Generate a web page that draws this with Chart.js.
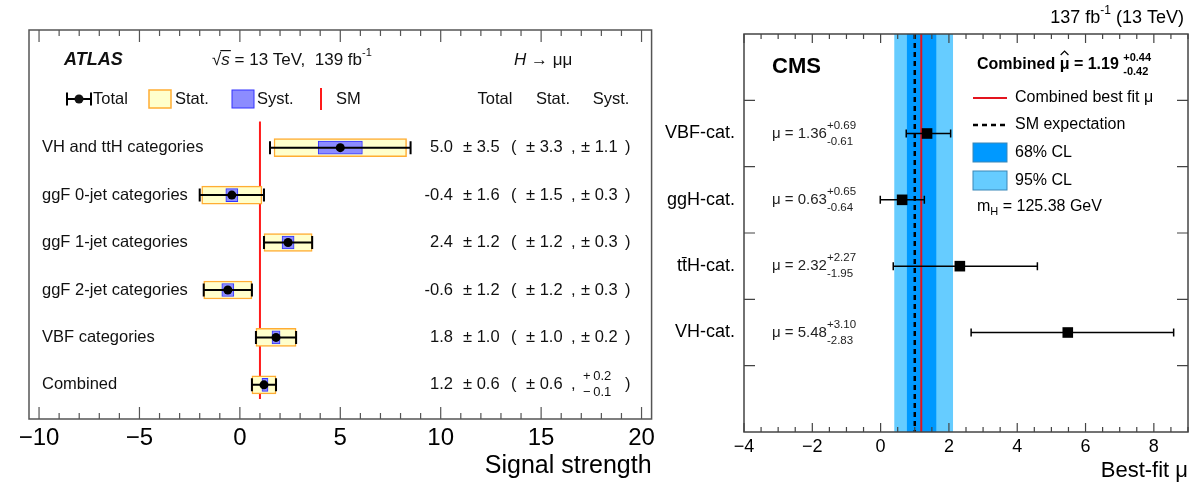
<!DOCTYPE html>
<html>
<head>
<meta charset="utf-8">
<script src="https://cdn.jsdelivr.net/npm/chart.js@4.4.1/dist/chart.umd.min.js"></script>
<style>
  html, body { margin: 0; padding: 0; background: #fff; }
  #wrap { position: relative; width: 1201px; height: 483px; overflow: hidden; }
  #atlas { position: absolute; left: 0; top: 0; }
  #cms { position: absolute; left: 660px; top: 0; }
</style>
</head>
<body>
<div id="wrap">
  <canvas id="atlas" width="660" height="483"></canvas>
  <canvas id="cms" width="541" height="483"></canvas>
</div>
<script>
// ATLAS H -> mumu signal strength per category
const atlasCategories = ['VH and ttH categories', 'ggF 0-jet categories', 'ggF 1-jet categories',
                         'ggF 2-jet categories', 'VBF categories', 'Combined'];
const atlasRows = [5, 4, 3, 2, 1, 0];
const atlasMu = [5.0, -0.4, 2.4, -0.6, 1.8, 1.2];
const atlasTotal = [3.5, 1.6, 1.2, 1.2, 1.0, 0.6];
const atlasStat = [3.3, 1.5, 1.2, 1.2, 1.0, 0.6];
const atlasSystUp = [1.1, 0.3, 0.3, 0.3, 0.2, 0.2];
const atlasSystDown = [1.1, 0.3, 0.3, 0.3, 0.2, 0.1];
const atlasMajorTicks = [-10, -5, 0, 5, 10, 15, 20];
const smValue = 1;

// CMS best-fit mu per category
const cmsCategories = ['VBF-cat.', 'ggH-cat.', 'tt\u0304H-cat.', 'VH-cat.'];
const cmsRows = [4.5, 3.5, 2.5, 1.5];
const cmsMu = [1.36, 0.63, 2.32, 5.48];
const cmsUp = [0.69, 0.65, 2.27, 3.10];
const cmsDown = [0.61, 0.64, 1.95, 2.83];
const cmsBest = 1.19;
const cmsBestUp = 0.44;
const cmsBestDown = 0.42;
const cms95 = [0.40, 2.12];
const cmsMajorTicks = [-4, -2, 0, 2, 4, 6, 8];

const FAMILY = '"Liberation Sans", Arial, Helvetica, sans-serif';
const font = (size, style) => (style ? style + ' ' : '') + size + 'px ' + FAMILY;
Chart.defaults.font.family = FAMILY;
Chart.defaults.color = '#000';

function fmtTick(v) {
  return v < 0 ? '\u2212' + (-v) : String(v);
}

function tickRange(lo, hi, step) {
  const out = [];
  for (let v = lo; v <= hi + 1e-9; v += step) out.push({ value: Math.round(v * 100) / 100 });
  return out;
}

// draws consecutive text pieces with their own fonts / vertical offsets
function drawRuns(ctx, x, y, runs, align) {
  let total = 0;
  runs.forEach(r => {
    ctx.font = r.font;
    r.w = r.stack ? Math.max(ctx.measureText(r.text).width, ctx.measureText(r.stack).width)
                  : ctx.measureText(r.text).width;
    total += r.w + (r.gap || 0);
  });
  let cx = align === 'right' ? x - total : x;
  ctx.textAlign = 'left';
  ctx.textBaseline = 'middle';
  runs.forEach(r => {
    ctx.font = r.font;
    if (r.stack) {
      ctx.fillText(r.text, cx, y - r.off);
      ctx.fillText(r.stack, cx, y + r.off);
    } else {
      ctx.fillText(r.text, cx, y + (r.dy || 0));
    }
    if (r.after) r.after(cx, r.w);
    cx += r.w + (r.gap || 0);
  });
  return cx;
}

function tickMarks(ctx, scale, area, isMajor, majorLen, minorLen) {
  ctx.beginPath();
  scale.ticks.forEach(t => {
    const px = scale.getPixelForValue(t.value);
    const len = isMajor(t.value) ? majorLen : minorLen;
    ctx.moveTo(px, area.bottom);
    ctx.lineTo(px, area.bottom - len);
    ctx.moveTo(px, area.top);
    ctx.lineTo(px, area.top + len);
  });
  ctx.stroke();
}

// ---------------- ATLAS panel ----------------
const atlasDecor = {
  id: 'atlasDecor',
  beforeDatasetsDraw(chart) {
    const { ctx, scales: { x, y } } = chart;
    ctx.save();
    ctx.strokeStyle = '#ff1a1a';
    ctx.lineWidth = 2;
    ctx.beginPath();
    ctx.moveTo(x.getPixelForValue(smValue), y.getPixelForValue(5.55));
    ctx.lineTo(x.getPixelForValue(smValue), y.getPixelForValue(-0.3));
    ctx.stroke();
    ctx.restore();
  },
  afterDatasetDraw(chart, args) {
    if (args.index !== 1) return;
    // total uncertainty whiskers above the stat/syst boxes
    const { ctx, scales: { x, y } } = chart;
    ctx.save();
    ctx.strokeStyle = '#000';
    ctx.lineWidth = 2;
    atlasRows.forEach((r, i) => {
      const py = y.getPixelForValue(r);
      const x0 = x.getPixelForValue(atlasMu[i] - atlasTotal[i]);
      const x1 = x.getPixelForValue(atlasMu[i] + atlasTotal[i]);
      ctx.beginPath();
      ctx.moveTo(x0, py); ctx.lineTo(x1, py);
      ctx.moveTo(x0, py - 6.5); ctx.lineTo(x0, py + 6.5);
      ctx.moveTo(x1, py - 6.5); ctx.lineTo(x1, py + 6.5);
      ctx.stroke();
    });
    ctx.restore();
  },
  afterDraw(chart) {
    const { ctx, chartArea: a, scales: { x, y } } = chart;
    ctx.save();
    ctx.strokeStyle = '#555';
    ctx.lineWidth = 1.5;
    ctx.strokeRect(a.left, a.top, a.right - a.left, a.bottom - a.top);
    ctx.lineWidth = 1.2;
    tickMarks(ctx, x, a, v => atlasMajorTicks.includes(v), 12, 6);

    ctx.fillStyle = '#111';
    // header line
    drawRuns(ctx, 64, 60, [{ text: 'ATLAS', font: font(18, 'italic bold') }]);
    drawRuns(ctx, 212, 60, [
      { text: '\u221A', font: font(17) },
      { text: 's', font: font(17, 'italic'), after: (cx, w) => {
          ctx.fillRect(cx - 1, 50, w + 2, 1.2);
        } },
      { text: ' = 13 TeV,  139 fb', font: font(17) },
      { text: '-1', font: font(11), dy: -7 }
    ]);
    drawRuns(ctx, 514, 60, [
      { text: 'H', font: font(17, 'italic') },
      { text: ' \u2192 \u03BC\u03BC', font: font(17) }
    ]);

    // legend line
    const ly = 99;
    ctx.strokeStyle = '#000';
    ctx.lineWidth = 2;
    ctx.beginPath();
    ctx.moveTo(67, ly); ctx.lineTo(91, ly);
    ctx.moveTo(67, ly - 6.5); ctx.lineTo(67, ly + 6.5);
    ctx.moveTo(91, ly - 6.5); ctx.lineTo(91, ly + 6.5);
    ctx.stroke();
    ctx.beginPath();
    ctx.arc(79, ly, 4.5, 0, Math.PI * 2);
    ctx.fill();
    drawRuns(ctx, 93, ly, [{ text: 'Total', font: font(16.5) }]);
    ctx.fillStyle = '#ffffcc';
    ctx.fillRect(149, ly - 9, 22, 18);
    ctx.strokeStyle = '#ffad33';
    ctx.lineWidth = 1.5;
    ctx.strokeRect(149, ly - 9, 22, 18);
    ctx.fillStyle = '#8c8cff';
    ctx.fillRect(232, ly - 9, 22, 18);
    ctx.strokeStyle = '#3333ff';
    ctx.lineWidth = 1;
    ctx.strokeRect(232, ly - 9, 22, 18);
    ctx.strokeStyle = '#ff1a1a';
    ctx.lineWidth = 2;
    ctx.beginPath();
    ctx.moveTo(321, ly - 11); ctx.lineTo(321, ly + 11);
    ctx.stroke();
    ctx.fillStyle = '#111';
    drawRuns(ctx, 175, ly, [{ text: 'Stat.', font: font(16.5) }]);
    drawRuns(ctx, 257, ly, [{ text: 'Syst.', font: font(16.5) }]);
    drawRuns(ctx, 336, ly, [{ text: 'SM', font: font(16.5) }]);

    ctx.font = font(16.5);
    ctx.textAlign = 'center';
    ctx.fillText('Total', 495, ly);
    ctx.fillText('Stat.', 553, ly);
    ctx.fillText('Syst.', 611, ly);

    // per-category labels and numbers
    atlasRows.forEach((r, i) => {
      const py = y.getPixelForValue(r);
      ctx.font = font(16.5);
      ctx.textBaseline = 'middle';
      ctx.textAlign = 'left';
      ctx.fillText(atlasCategories[i], 42, py);
      ctx.textAlign = 'right';
      ctx.fillText(atlasMu[i].toFixed(1), 453, py);
      ctx.textAlign = 'left';
      ctx.fillText('\u00B1 ' + atlasTotal[i].toFixed(1), 463, py);
      ctx.fillText('(', 511, py);
      ctx.fillText('\u00B1 ' + atlasStat[i].toFixed(1), 526, py);
      ctx.fillText(',', 571, py);
      if (atlasSystUp[i] === atlasSystDown[i]) {
        ctx.fillText('\u00B1 ' + atlasSystUp[i].toFixed(1), 581, py);
      } else {
        ctx.font = font(13);
        ctx.fillText('+\u2009' + atlasSystUp[i].toFixed(1), 583, py - 8);
        ctx.fillText('\u2212\u2009' + atlasSystDown[i].toFixed(1), 583, py + 8);
        ctx.font = font(16.5);
      }
      ctx.fillText(')', 625, py);
    });
    ctx.restore();
  }
};

new Chart(document.getElementById('atlas'), {
  type: 'bar',
  data: {
    datasets: [
      {
        type: 'bar',
        label: 'Stat.',
        data: atlasRows.map((r, i) => ({ x: [atlasMu[i] - atlasStat[i], atlasMu[i] + atlasStat[i]], y: r })),
        backgroundColor: '#ffffcc',
        borderColor: '#ffad33',
        borderWidth: 1.5,
        borderSkipped: false,
        barThickness: 18,
        grouped: false,
        order: 3
      },
      {
        type: 'bar',
        label: 'Syst.',
        data: atlasRows.map((r, i) => ({ x: [atlasMu[i] - atlasSystDown[i], atlasMu[i] + atlasSystUp[i]], y: r })),
        backgroundColor: '#8c8cff',
        borderColor: '#3333ff',
        borderWidth: 1,
        borderSkipped: false,
        barThickness: 13,
        grouped: false,
        order: 2
      },
      {
        type: 'scatter',
        label: 'Total',
        data: atlasRows.map((r, i) => ({ x: atlasMu[i], y: r })),
        pointRadius: 4.5,
        pointBackgroundColor: '#000',
        pointBorderWidth: 0,
        order: 1
      }
    ]
  },
  options: {
    indexAxis: 'y',
    responsive: false,
    animation: false,
    layout: { padding: { left: 29, right: 7, top: 30, bottom: 0 } },
    plugins: { legend: { display: false }, tooltip: { enabled: false } },
    scales: {
      x: {
        type: 'linear',
        min: -10.5,
        max: 20.5,
        grid: { display: false, drawTicks: false },
        border: { display: false },
        afterBuildTicks: s => { s.ticks = tickRange(-10, 20, 1); },
        ticks: {
          autoSkip: false,
          maxRotation: 0,
          padding: 5,
          font: { size: 24 },
          color: '#000',
          callback: v => atlasMajorTicks.includes(v) ? fmtTick(v) : ''
        },
        title: {
          display: true,
          text: 'Signal strength',
          align: 'end',
          color: '#000',
          font: { size: 25, lineHeight: 1 },
          padding: { top: 0, bottom: 4 }
        },
        afterFit: s => { s.height = 64; }
      },
      y: { type: 'linear', min: -0.72, max: 7.48, offset: false, display: false }
    }
  },
  plugins: [atlasDecor]
});

// ---------------- CMS panel ----------------
const cmsDecor = {
  id: 'cmsDecor',
  beforeDatasetsDraw(chart) {
    const { ctx, chartArea: a, scales: { x, y } } = chart;
    ctx.save();
    const band = (lo, hi, color) => {
      ctx.fillStyle = color;
      ctx.fillRect(x.getPixelForValue(lo), a.top, x.getPixelForValue(hi) - x.getPixelForValue(lo), a.bottom - a.top);
    };
    band(cms95[0], cms95[1], '#66ccff');
    band(cmsBest - cmsBestDown, cmsBest + cmsBestUp, '#0099ff');

    ctx.strokeStyle = '#000';
    ctx.lineWidth = 2.5;
    ctx.setLineDash([5, 4]);
    ctx.beginPath();
    ctx.moveTo(x.getPixelForValue(smValue), a.top);
    ctx.lineTo(x.getPixelForValue(smValue), a.bottom);
    ctx.stroke();
    ctx.setLineDash([]);

    ctx.strokeStyle = '#e3141e';
    ctx.lineWidth = 2;
    ctx.beginPath();
    ctx.moveTo(x.getPixelForValue(cmsBest), a.top);
    ctx.lineTo(x.getPixelForValue(cmsBest), a.bottom);
    ctx.stroke();

    // asymmetric error bars
    ctx.strokeStyle = '#000';
    ctx.lineWidth = 1.5;
    cmsRows.forEach((r, i) => {
      const py = y.getPixelForValue(r);
      const x0 = x.getPixelForValue(cmsMu[i] - cmsDown[i]);
      const x1 = x.getPixelForValue(cmsMu[i] + cmsUp[i]);
      ctx.beginPath();
      ctx.moveTo(x0, py); ctx.lineTo(x1, py);
      ctx.moveTo(x0, py - 4); ctx.lineTo(x0, py + 4);
      ctx.moveTo(x1, py - 4); ctx.lineTo(x1, py + 4);
      ctx.stroke();
    });
    ctx.restore();
  },
  afterDraw(chart) {
    const { ctx, chartArea: a, scales: { x, y } } = chart;
    ctx.save();
    ctx.strokeStyle = '#444';
    ctx.lineWidth = 1.5;
    ctx.strokeRect(a.left, a.top, a.right - a.left, a.bottom - a.top);
    ctx.lineWidth = 1.2;
    tickMarks(ctx, x, a, v => cmsMajorTicks.includes(v), 9, 5);
    ctx.beginPath();
    [1, 2, 3, 4, 5].forEach(v => {
      const py = y.getPixelForValue(v);
      ctx.moveTo(a.left, py); ctx.lineTo(a.left + 11, py);
      ctx.moveTo(a.right, py); ctx.lineTo(a.right - 11, py);
    });
    ctx.stroke();

    ctx.fillStyle = '#000';
    drawRuns(ctx, 524, 18, [
      { text: '137 fb', font: font(18) },
      { text: '-1', font: font(12), dy: -7 },
      { text: ' (13 TeV)', font: font(18) }
    ], 'right');
    drawRuns(ctx, 112, 67, [{ text: 'CMS', font: font(22, 'bold') }]);

    // value annotations next to each category
    ctx.fillStyle = '#222';
    cmsRows.forEach((r, i) => {
      const py = y.getPixelForValue(r);
      drawRuns(ctx, 112, py, [
        { text: '\u03BC = ' + cmsMu[i].toFixed(2), font: font(15) },
        { text: '+' + cmsUp[i].toFixed(2), stack: '-' + cmsDown[i].toFixed(2), off: 8, font: font(11.5) }
      ]);
    });

    // legend
    ctx.fillStyle = '#000';
    const lx = 313, tx = 355;
    drawRuns(ctx, 317, 65, [
      { text: 'Combined ', font: font(16, 'bold') },
      { text: '\u03BC', font: font(16, 'bold'), after: (cx, w) => {
          ctx.save();
          ctx.strokeStyle = '#000';
          ctx.lineWidth = 1.2;
          ctx.beginPath();
          ctx.moveTo(cx + 1, 55); ctx.lineTo(cx + w / 2, 51); ctx.lineTo(cx + w - 1, 55);
          ctx.stroke();
          ctx.restore();
        } },
      { text: ' = ' + cmsBest.toFixed(2) + ' ', font: font(16, 'bold') },
      { text: '+' + cmsBestUp.toFixed(2), stack: '-' + cmsBestDown.toFixed(2), off: 7, font: font(11, 'bold') }
    ]);

    ctx.strokeStyle = '#e3141e';
    ctx.lineWidth = 2;
    ctx.beginPath();
    ctx.moveTo(lx, 98); ctx.lineTo(lx + 34, 98);
    ctx.stroke();
    drawRuns(ctx, tx, 98, [{ text: 'Combined best fit \u03BC', font: font(16) }]);

    ctx.strokeStyle = '#000';
    ctx.lineWidth = 2.5;
    ctx.setLineDash([5, 4]);
    ctx.beginPath();
    ctx.moveTo(lx, 125); ctx.lineTo(lx + 34, 125);
    ctx.stroke();
    ctx.setLineDash([]);
    drawRuns(ctx, tx, 125, [{ text: 'SM expectation', font: font(16) }]);

    ctx.lineWidth = 1;
    ctx.strokeStyle = '#3a87b8';
    ctx.fillStyle = '#0099ff';
    ctx.fillRect(lx, 143, 34, 19);
    ctx.strokeRect(lx, 143, 34, 19);
    ctx.fillStyle = '#66ccff';
    ctx.fillRect(lx, 171, 34, 19);
    ctx.strokeRect(lx, 171, 34, 19);
    ctx.fillStyle = '#000';
    drawRuns(ctx, tx, 153, [{ text: '68% CL', font: font(16) }]);
    drawRuns(ctx, tx, 181, [{ text: '95% CL', font: font(16) }]);
    drawRuns(ctx, 317, 207, [
      { text: 'm', font: font(16) },
      { text: 'H', font: font(11), dy: 5 },
      { text: ' = 125.38 GeV', font: font(16) }
    ]);
    ctx.restore();
  }
};

new Chart(document.getElementById('cms'), {
  type: 'scatter',
  data: {
    datasets: [{
      label: 'Best-fit',
      data: cmsRows.map((r, i) => ({ x: cmsMu[i], y: r })),
      pointStyle: 'rect',
      pointRadius: 7.5,
      pointBackgroundColor: '#000',
      pointBorderWidth: 0
    }]
  },
  options: {
    responsive: false,
    animation: false,
    layout: { padding: { left: 0, right: 13, top: 34, bottom: 0 } },
    plugins: { legend: { display: false }, tooltip: { enabled: false } },
    scales: {
      x: {
        type: 'linear',
        min: -4,
        max: 9,
        grid: { display: false, drawTicks: false },
        border: { display: false },
        afterBuildTicks: s => { s.ticks = tickRange(-4, 9, 0.5); },
        ticks: {
          autoSkip: false,
          maxRotation: 0,
          padding: 4,
          font: { size: 18 },
          color: '#000',
          callback: v => cmsMajorTicks.includes(v) ? fmtTick(v) : ''
        },
        title: {
          display: true,
          text: 'Best-fit \u03BC',
          align: 'end',
          color: '#000',
          font: { size: 22, lineHeight: 1 },
          padding: { top: 0, bottom: 1 }
        },
        afterFit: s => { s.height = 51; }
      },
      y: {
        type: 'linear',
        min: 0,
        max: 6,
        grid: { display: false, drawTicks: false },
        border: { display: false },
        afterBuildTicks: s => { s.ticks = cmsRows.map(v => ({ value: v })); },
        ticks: {
          autoSkip: false,
          padding: 9,
          font: { size: 18 },
          color: '#000',
          callback: v => cmsCategories[cmsRows.indexOf(v)]
        },
        afterFit: s => { s.width = 84; }
      }
    }
  },
  plugins: [cmsDecor]
});
</script>
</body>
</html>
